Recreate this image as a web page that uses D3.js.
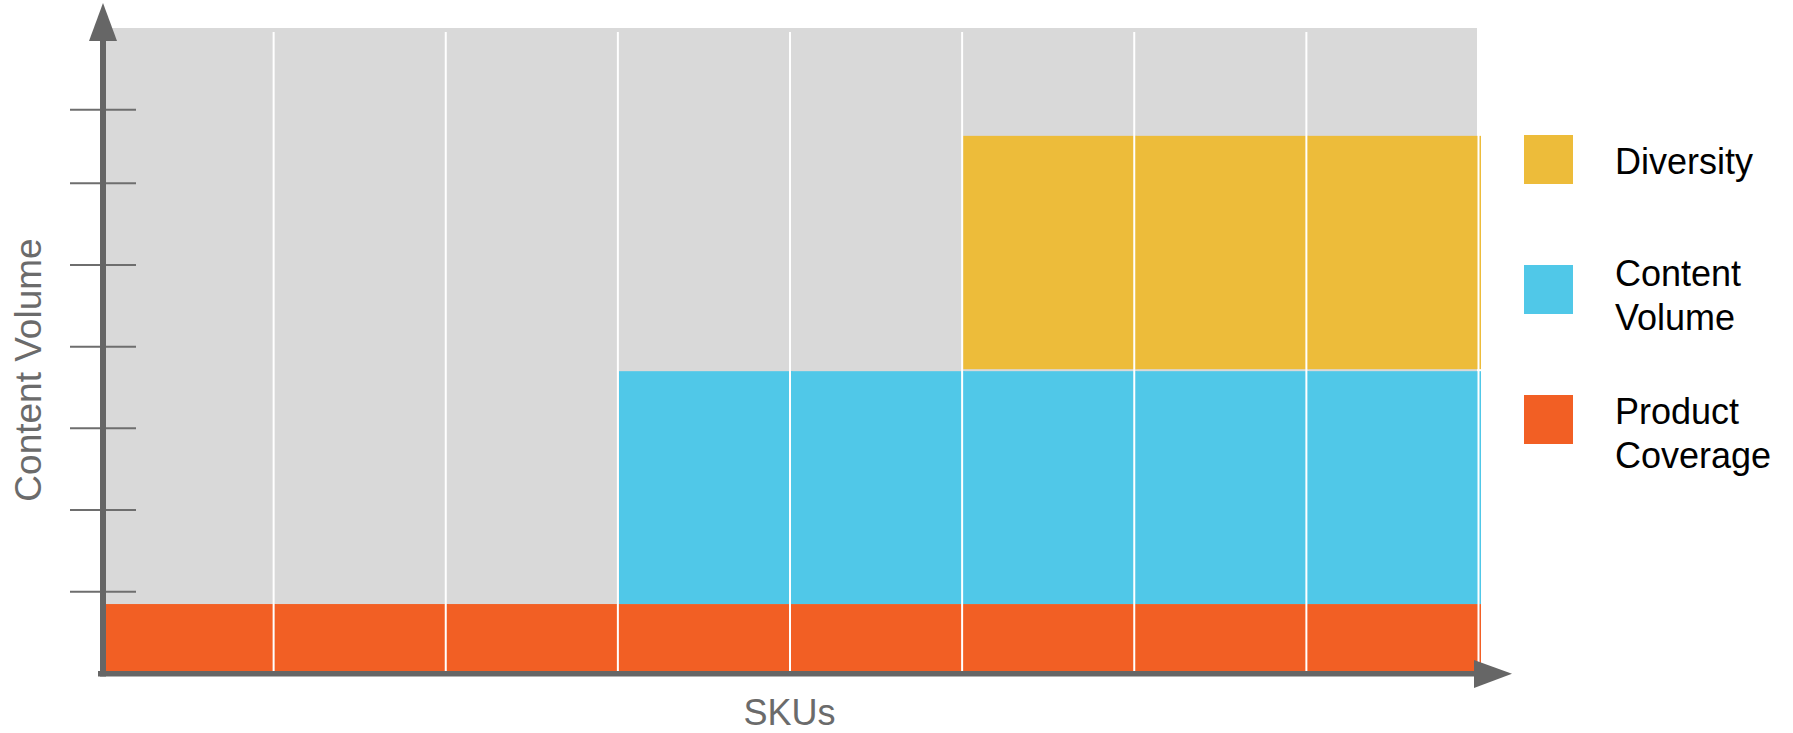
<!DOCTYPE html>
<html>
<head>
<meta charset="utf-8">
<script src="https://cdn.jsdelivr.net/npm/d3@7"></script>
<style>
  html, body { margin: 0; padding: 0; background: #ffffff; }
  svg { display: block; }
  text { font-family: "Liberation Sans", Arial, Helvetica, sans-serif; }
</style>
</head>
<body>
<svg id="chart" width="1793" height="733"></svg>
<script>
// ---- Data ----
const categories = ["SKU 1", "SKU 2", "SKU 3", "SKU 4", "SKU 5", "SKU 6", "SKU 7", "SKU 8"];
const productCoverage = [0.85, 0.85, 0.85, 0.85, 0.85, 0.85, 0.85, 0.85];
const contentVolume   = [0, 0, 0, 2.85, 2.85, 2.85, 2.85, 2.85];
const diversity       = [0, 0, 0, 0, 0, 2.88, 2.88, 2.88];
const seriesNames = ["Product Coverage", "Content Volume", "Diversity"];
const seriesColors = ["#f25f24", "#50c8e8", "#edbc3a"];
const yTickValues = [1, 2, 3, 4, 5, 6, 6.9];
const yMax = 7.9;
const xAxisTitle = "SKUs";
const yAxisTitle = "Content Volume";

// ---- Setup ----
const svg = d3.select("#chart");
const axisColor = "#666666";

const x = d3.scaleBand().domain(categories).range([101, 1478]).padding(0);
const y = d3.scaleLinear().domain([0, yMax]).range([673.5, 28]);

// Stacked data
const table = categories.map((c, i) => ({
  cat: c,
  "Product Coverage": productCoverage[i],
  "Content Volume": contentVolume[i],
  "Diversity": diversity[i]
}));
const stack = d3.stack().keys(seriesNames)(table);

// Background plot area
svg.append("rect")
  .attr("x", x.range()[0] + 5)
  .attr("y", y(yMax))
  .attr("width", x.range()[1] - x.range()[0] - 6)
  .attr("height", y(0) - y(yMax))
  .attr("fill", "#d9d9d9");

// Bars
stack.forEach((layer, li) => {
  svg.append("g")
    .selectAll("rect")
    .data(layer.filter(d => d[1] - d[0] > 0))
    .join("rect")
    .attr("x", d => x(d.data.cat) + 1.5)
    .attr("width", x.bandwidth() + 1.5)
    .attr("y", d => y(d[1]))
    .attr("height", d => Math.max(0, y(d[0]) - y(d[1]) - (li === 2 ? 2 : 0)))
    .attr("fill", seriesColors[li]);
});

// Vertical white gridlines at band boundaries
const boundaries = categories.map(c => x(c) + x.bandwidth());
svg.append("g")
  .selectAll("line")
  .data(boundaries)
  .join("line")
  .attr("x1", d => d + 0.5).attr("x2", d => d + 0.5)
  .attr("y1", y(yMax) + 4).attr("y2", y(0) - 2)
  .attr("stroke", "#ffffff")
  .attr("stroke-width", 2);

// Y ticks
svg.append("g")
  .selectAll("line")
  .data(yTickValues)
  .join("line")
  .attr("x1", 70).attr("x2", 136)
  .attr("y1", d => y(d)).attr("y2", d => y(d))
  .attr("stroke", "#6e6e6e")
  .attr("stroke-width", 2);

// Y axis line + arrow
svg.append("line")
  .attr("x1", 103).attr("x2", 103)
  .attr("y1", 40).attr("y2", 676.5)
  .attr("stroke", axisColor).attr("stroke-width", 6);
svg.append("path")
  .attr("d", "M103,3 L117,41 L89,41 Z")
  .attr("fill", axisColor);

// X axis line + arrow
svg.append("line")
  .attr("x1", 98).attr("x2", 1476)
  .attr("y1", 673.7).attr("y2", 673.7)
  .attr("stroke", axisColor).attr("stroke-width", 5.5);
svg.append("path")
  .attr("d", "M1474,660 L1512,673.8 L1474,688 Z")
  .attr("fill", axisColor);

// Axis titles
svg.append("text")
  .attr("x", 789.5).attr("y", 725)
  .attr("text-anchor", "middle")
  .attr("font-size", 36)
  .attr("fill", "#6b6b6b")
  .text(xAxisTitle);

svg.append("text")
  .attr("transform", "translate(41,370) rotate(-90)")
  .attr("text-anchor", "middle")
  .attr("font-size", 37)
  .attr("fill", "#6b6b6b")
  .text(yAxisTitle);

// Legend (top to bottom: Diversity, Content Volume, Product Coverage)
const legendItems = [
  { lines: ["Diversity"], color: seriesColors[2], top: 135, baselines: [174] },
  { lines: ["Content", "Volume"], color: seriesColors[1], top: 265, baselines: [285.7, 330] },
  { lines: ["Product", "Coverage"], color: seriesColors[0], top: 395, baselines: [424.3, 468.3] }
];
const legend = svg.append("g");
legendItems.forEach(item => {
  legend.append("rect")
    .attr("x", 1524).attr("y", item.top)
    .attr("width", 49).attr("height", 49)
    .attr("fill", item.color);
  item.lines.forEach((ln, j) => {
    legend.append("text")
      .attr("x", 1615).attr("y", item.baselines[j])
      .attr("font-size", 36)
      .attr("fill", "#000000")
      .text(ln);
  });
});
</script>
</body>
</html>
